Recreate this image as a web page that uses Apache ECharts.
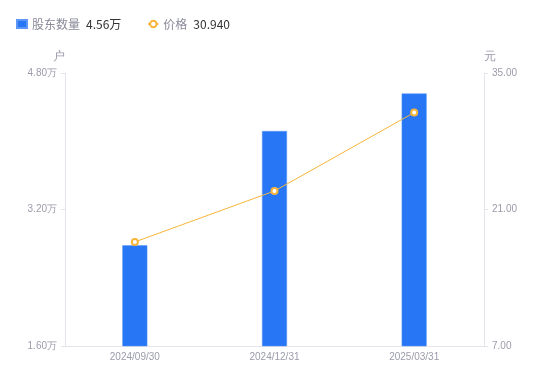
<!DOCTYPE html>
<html><head><meta charset="utf-8">
<script src="https://cdn.jsdelivr.net/npm/echarts@6/dist/echarts.min.js"></script>
<style>html,body{margin:0;padding:0;background:#fff}#c{width:550px;height:381px}</style>
</head><body><div id="c"></div>
<script>
const categories = ['2024/09/30', '2024/12/31', '2025/03/31'];
const holders = [2.78, 4.12, 4.56];
const prices = [17.67, 22.90, 30.94];
const leftTicks = [1.6, 3.2, 4.8];
const rightTicks = [7, 21, 35];
const names = ['股东数量', '价格'];
const latest = {'股东数量': '4.56万', '价格': '30.940'};

const chart = echarts.init(document.getElementById('c'));
const axisColor = '#e4e4ea';
const labelColor = '#9b9bab';
chart.setOption({
  animation: false,
  legend: {
    left: 11, top: 13, itemWidth: 10, itemHeight: 8, itemGap: 26,
    data: [{name: names[0], icon: 'rect'}, {name: names[1]}],
    formatter: n => '{a|' + n + '}{b|' + latest[n] + '}',
    textStyle: {
      rich: {
        a: {color: '#8a8a99', fontSize: 12, fontFamily: 'Noto Sans CJK SC', padding: [0, 6, 0, 0]},
        b: {color: '#333', fontSize: 12, fontFamily: 'Noto Sans CJK SC'}
      }
    }
  },
  grid: {left: 65, right: 66, top: 73, bottom: 35},
  xAxis: {
    type: 'category', data: categories,
    axisLine: {lineStyle: {color: axisColor}},
    axisTick: {show: false},
    axisLabel: {color: labelColor, fontSize: 10, margin: 6}
  },
  yAxis: [{
    type: 'value', min: leftTicks[0], max: leftTicks[2], interval: 1.6,
    name: '户', nameGap: 10, nameTextStyle: {color: labelColor, fontSize: 12, align: 'right'},
    axisLine: {show: true, lineStyle: {color: axisColor}},
    axisTick: {show: true, length: 4, lineStyle: {color: axisColor}},
    splitLine: {show: false},
    axisLabel: {color: labelColor, fontSize: 10, margin: 8, formatter: v => v.toFixed(2) + '万'}
  }, {
    type: 'value', min: rightTicks[0], max: rightTicks[2], interval: 14,
    name: '元', nameGap: 10, nameTextStyle: {color: labelColor, fontSize: 12, align: 'left'},
    axisLine: {show: true, lineStyle: {color: axisColor}},
    axisTick: {show: true, length: 4, lineStyle: {color: axisColor}},
    splitLine: {show: false},
    axisLabel: {color: labelColor, fontSize: 10, margin: 8, formatter: v => v.toFixed(2)}
  }],
  series: [{
    name: names[0], type: 'bar', data: holders, yAxisIndex: 0, barWidth: 25,
    itemStyle: {color: '#2676f5', borderColor: '#5a97f7', borderWidth: 0.5}
  }, {
    name: names[1], type: 'line', data: prices, yAxisIndex: 1,
    symbol: 'circle', symbolSize: 6,
    lineStyle: {color: '#f7b53b', width: 1},
    itemStyle: {color: '#fff', borderColor: '#f7b53b', borderWidth: 2}
  }]
});
</script></body></html>
